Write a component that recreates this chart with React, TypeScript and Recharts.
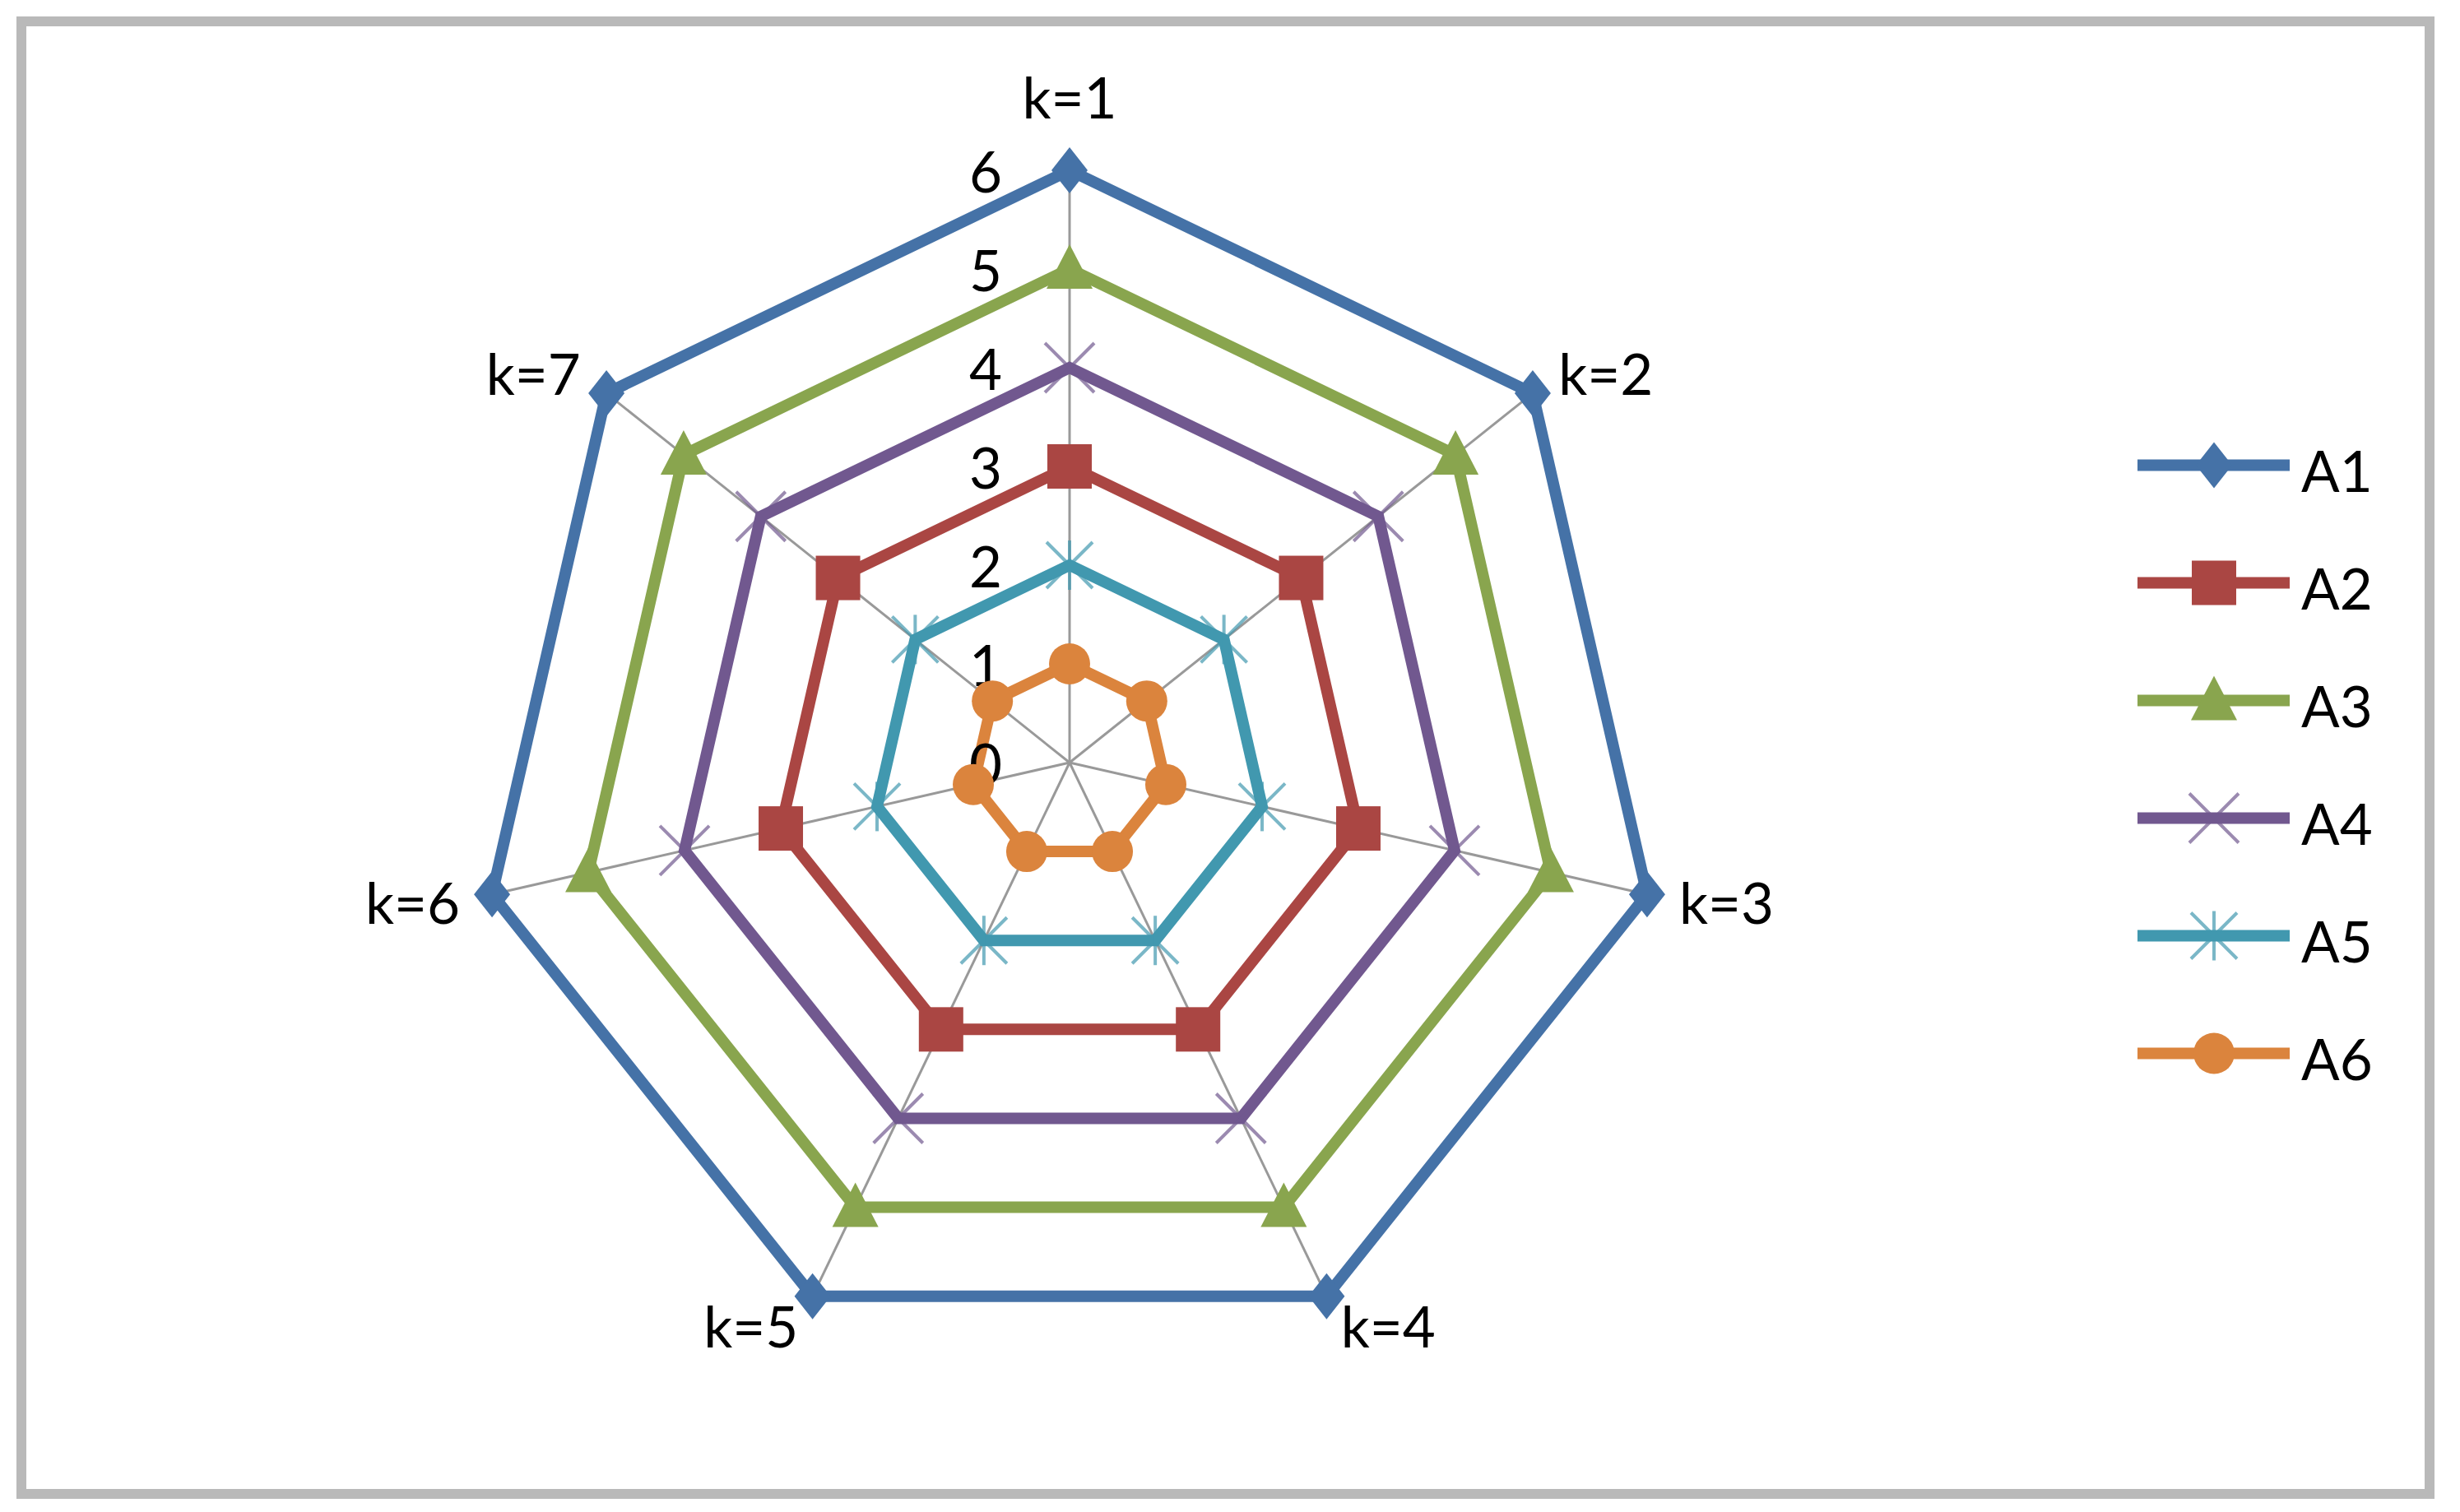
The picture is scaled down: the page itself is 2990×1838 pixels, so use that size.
import React from 'react';
import { RadarChart, Radar, PolarGrid, PolarAngleAxis, PolarRadiusAxis, Legend } from 'recharts';

const categories = ['k=1', 'k=2', 'k=3', 'k=4', 'k=5', 'k=6', 'k=7'];
const A1 = [6, 6, 6, 6, 6, 6, 6];
const A2 = [3, 3, 3, 3, 3, 3, 3];
const A3 = [5, 5, 5, 5, 5, 5, 5];
const A4 = [4, 4, 4, 4, 4, 4, 4];
const A5 = [2, 2, 2, 2, 2, 2, 2];
const A6 = [1, 1, 1, 1, 1, 1, 1];
const seriesNames = ['A1', 'A2', 'A3', 'A4', 'A5', 'A6'];
const radiusTicks = [0, 1, 2, 3, 4, 5, 6];

const data = categories.map((k, i) => ({
  k,
  A1: A1[i],
  A2: A2[i],
  A3: A3[i],
  A4: A4[i],
  A5: A5[i],
  A6: A6[i],
}));

const COLORS: Record<string, string> = {
  A1: '#4572A7',
  A2: '#AA4643',
  A3: '#89A54E',
  A4: '#71588F',
  A5: '#4198AF',
  A6: '#DB843D',
};
const MARKERS: Record<string, string> = {
  A1: 'diamond',
  A2: 'square',
  A3: 'triangle',
  A4: 'x',
  A5: 'star',
  A6: 'circle',
};

const FONT = 'Lato, "Liberation Sans", sans-serif';
const FONT_SIZE = 69;
const CX = 1300;
const CY = 927;
const R = 720;

function Marker({ kind, x, y, color }: { kind: string; x: number; y: number; color: string }) {
  if (kind === 'diamond') {
    return <polygon points={`${x},${y - 28} ${x + 22},${y} ${x},${y + 28} ${x - 22},${y}`} fill={color} />;
  }
  if (kind === 'square') {
    return <rect x={x - 27} y={y - 27} width={54} height={54} fill={color} />;
  }
  if (kind === 'triangle') {
    return <polygon points={`${x},${y - 30} ${x + 28},${y + 24} ${x - 28},${y + 24}`} fill={color} />;
  }
  if (kind === 'x') {
    return (
      <g stroke={color} strokeWidth={4} strokeOpacity={0.7}>
        <line x1={x - 30} y1={y - 30} x2={x + 30} y2={y + 30} />
        <line x1={x - 30} y1={y + 30} x2={x + 30} y2={y - 30} />
      </g>
    );
  }
  if (kind === 'star') {
    return (
      <g stroke={color} strokeWidth={4} strokeOpacity={0.7}>
        <line x1={x - 28} y1={y - 28} x2={x + 28} y2={y + 28} />
        <line x1={x - 28} y1={y + 28} x2={x + 28} y2={y - 28} />
        <line x1={x} y1={y - 30} x2={x} y2={y + 30} />
      </g>
    );
  }
  return <circle cx={x} cy={y} r={25} fill={color} />;
}

const makeDot = (name: string) => (p: any) => (
  <Marker key={`${name}-${p.index}`} kind={MARKERS[name]} x={p.cx} y={p.cy} color={COLORS[name]} />
);

const AngleTick = (p: any) => {
  const dx = p.x - CX;
  const dy = p.y - CY;
  const len = Math.hypot(dx, dy) || 1;
  const ux = dx / len;
  const uy = dy / len;
  const top = Math.abs(ux) < 0.1 && uy < 0;
  const d = top ? 90 : 40;
  const x = CX + (R + d) * ux;
  const y = CY + (R + d) * uy;
  const anchor = ux > 0.1 ? 'start' : ux < -0.1 ? 'end' : 'middle';
  return (
    <text x={x} y={y} textAnchor={anchor} dominantBaseline="central" fontFamily={FONT} fontSize={FONT_SIZE} fill="#000">
      {p.payload.value}
    </text>
  );
};

const RadiusTick = (p: any) => (
  <text x={p.x - 82} y={p.y} textAnchor="end" dominantBaseline="central" fontFamily={FONT} fontSize={FONT_SIZE} fill="#000">
    {p.payload.value}
  </text>
);

const renderLegend = (props: any) => {
  const payload: any[] = props.payload || [];
  const items = seriesNames.map((n) => payload.find((e) => e.value === n) || { value: n, color: COLORS[n] });
  return (
    <svg width={360} height={870} style={{ display: 'block' }}>
      {items.map((e, i) => {
        const yc = 71.5 + i * 143;
        const name = String(e.value);
        const color = e.color || COLORS[name];
        return (
          <g key={name}>
            <line x1={8} y1={yc} x2={193} y2={yc} stroke={color} strokeWidth={14} />
            <Marker kind={MARKERS[name]} x={101} y={yc} color={color} />
            <text x={207} y={yc + 6} dominantBaseline="central" fontFamily={FONT} fontSize={FONT_SIZE} fill="#000">
              {name}
            </text>
          </g>
        );
      })}
    </svg>
  );
};

export default function App() {
  return (
    <div style={{ position: 'absolute', left: 0, top: 0, width: 2990, height: 1838, background: '#fff' }}>
      <div
        style={{
          position: 'absolute',
          left: 20,
          top: 20,
          width: 2939,
          height: 1802,
          boxSizing: 'border-box',
          border: '12px solid #b9b9b9',
        }}
      />
      <div style={{ position: 'absolute', left: 0, top: 0 }}>
        <RadarChart
          width={2990}
          height={1838}
          data={data}
          cx={CX}
          cy={CY}
          outerRadius={R}
          margin={{ top: 0, right: 0, bottom: 0, left: 0 }}
        >
          <PolarGrid polarRadius={[]} stroke="#999" strokeWidth={3} />
          <PolarAngleAxis dataKey="k" tick={AngleTick} tickLine={false} axisLine={false} />
          {seriesNames.map((n) => (
            <Radar
              key={n}
              name={n}
              dataKey={n}
              stroke={COLORS[n]}
              strokeWidth={14}
              fill="none"
              fillOpacity={0}
              dot={makeDot(n)}
              isAnimationActive={false}
            />
          ))}
          <PolarRadiusAxis
            angle={90}
            domain={[0, 6]}
            tickCount={radiusTicks.length}
            ticks={radiusTicks as any}
            axisLine={false}
            tickLine={false}
            tick={RadiusTick}
          />
          <Legend
            layout="vertical"
            align="right"
            verticalAlign="middle"
            content={renderLegend}
            wrapperStyle={{ left: 2590, top: 494, width: 360, right: 'auto', bottom: 'auto' }}
          />
        </RadarChart>
      </div>
    </div>
  );
}
